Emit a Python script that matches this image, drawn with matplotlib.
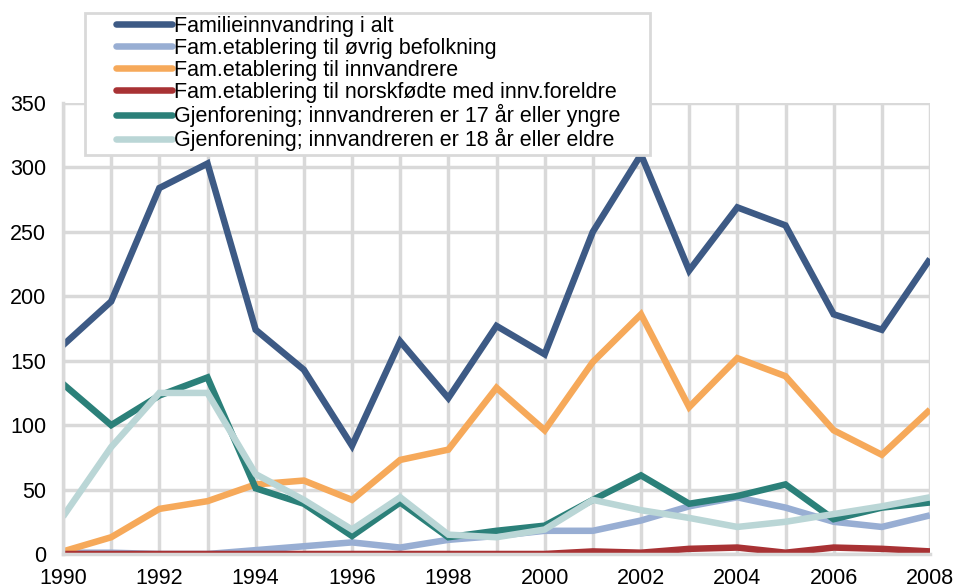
import matplotlib.pyplot as plt
from matplotlib.patches import Rectangle

plt.rcParams["font.family"] = ["Liberation Sans", "DejaVu Sans"]

aar = list(range(1990, 2009))

familie_i_alt = [162, 196, 284, 303, 174, 143, 84, 165, 121, 177, 155,
                 250, 310, 220, 269, 255, 186, 174, 229]
etabl_ovrig = [1, 1, 0, 0, 3, 6, 9, 5, 11, 14, 18, 18, 26, 37, 44, 36,
               25, 21, 30]
etabl_innv = [2, 13, 35, 41, 54, 57, 42, 73, 81, 129, 96, 149, 186, 114,
              152, 138, 96, 77, 112]
etabl_norskfodte = [0, 0, 0, 0, 0, 0, 0, 0, 0, 0, 0, 2, 1, 4, 5, 1, 5,
                    4, 2]
gjenf_17 = [132, 100, 123, 137, 51, 39, 14, 40, 13, 18, 22, 42, 61, 39,
            45, 54, 27, 36, 40]
gjenf_18 = [29, 83, 125, 125, 62, 42, 19, 44, 15, 13, 19, 42, 34, 28, 21,
            25, 31, 37, 44]

serier = [
    ("Familieinnvandring i alt", familie_i_alt, "#3d5a85"),
    ("Fam.etablering til øvrig befolkning", etabl_ovrig, "#98aed3"),
    ("Fam.etablering til innvandrere", etabl_innv, "#f6a95a"),
    ("Fam.etablering til norskfødte med innv.foreldre", etabl_norskfodte,
     "#a83234"),
    ("Gjenforening; innvandreren er 17 år eller yngre", gjenf_17,
     "#2b8079"),
    ("Gjenforening; innvandreren er 18 år eller eldre", gjenf_18,
     "#bad6d6"),
]

fig = plt.figure(figsize=(9.57, 5.88), dpi=100)
ax = fig.add_axes([63 / 957, 1 - 554 / 588, 867 / 957, 451 / 588])

for navn, verdier, farge in serier:
    ax.plot(aar, verdier, color=farge, lw=4.7, label=navn,
            solid_joinstyle="miter", solid_capstyle="butt")

ax.set_xlim(1990, 2008)
ax.set_ylim(0, 350)
ax.set_xticks(range(1990, 2009, 2))
ax.set_xticks(range(1990, 2009), minor=True)
ax.set_yticks(range(0, 351, 50))
ax.grid(True, which="both", color="#d9d9d9", lw=2.5)
ax.set_axisbelow(True)
ax.tick_params(which="both", length=0, labelsize=15.5)
ax.tick_params(axis="x", pad=10)
ax.tick_params(axis="y", pad=12)
for side in ["top", "right"]:
    ax.spines[side].set_visible(False)
for side in ["left", "bottom"]:
    ax.spines[side].set_color("#d9d9d9")
    ax.spines[side].set_linewidth(2.5)

# ramme rundt forklaringen
ramme = Rectangle((85 / 957, 1 - 155 / 588), 565 / 957, 142 / 588,
                  transform=fig.transFigure, facecolor="white",
                  edgecolor="#d9d9d9", lw=2, zorder=4, clip_on=False)
ax.add_patch(ramme)

leg = ax.legend(
    loc="upper left",
    bbox_to_anchor=(105 / 957, 1 - 5 / 588),
    bbox_transform=fig.transFigure,
    fontsize=15.5,
    handlelength=2.6,
    handletextpad=0.1,
    labelspacing=0.05,
    borderpad=0.0,
    frameon=False,
)
leg.set_zorder(5)
for linje in leg.get_lines():
    linje.set_solid_capstyle("round")
    linje.set_linewidth(4.7)

fig.savefig("out.png", dpi=100)
